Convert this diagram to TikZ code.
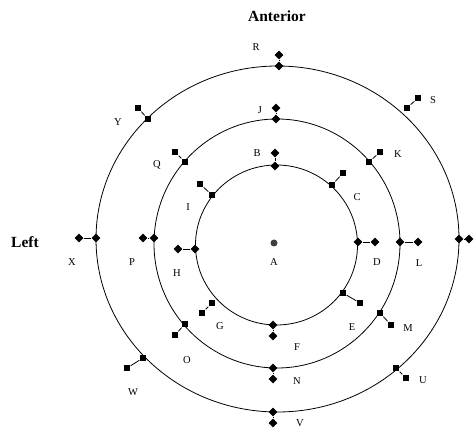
\documentclass[tikz,border=0pt]{standalone}
\usepackage{fontspec}
\setmainfont{Liberation Serif}
\usetikzlibrary{shapes.geometric}

\tikzset{
  dmd/.style={diamond,fill=black,inner sep=0pt,minimum size=9pt},
  sq/.style={rectangle,fill=black,inner sep=0pt,minimum size=6.5pt},
  lab/.style={font=\fontsize{10.5}{12}\selectfont},
  side/.style={font=\fontsize{15.5}{18}\selectfont\bfseries},
}

\begin{document}
\begin{tikzpicture}[x=1pt,y=-1pt,line width=0.8pt]
\useasboundingbox (0,0) rectangle (474,430);
% the three rings
\draw (276.5,245) ellipse [x radius=81pt,y radius=80pt];
\draw (277,243.5) ellipse [x radius=123pt,y radius=124.5pt];
\draw (277.5,239) ellipse [x radius=181.5pt,y radius=173pt];
% centre
\node[circle,fill=black!75,inner sep=0pt,minimum size=7pt] (ctr) at (274,243) {};
\node[lab] (labA) at (274,262) {A};
% marker pairs: name/shape/on ring/outside/label
\foreach \nm/\shp/\ax/\ay/\bx/\by/\lx/\ly in {
  B/dmd/275/166/275/153/257/153,
  C/sq/332/185/343/173/357/197,
  D/dmd/358/242/375/242/377/262,
  E/sq/343/293/360/303/352/327,
  F/dmd/273/325/273/336/297/347,
  G/sq/212/303/202/313/220/326,
  H/dmd/195/249/178/249/177/273,
  I/sq/212/195/200/184/188/207,
  J/dmd/276/119/276/108/260/110,
  K/sq/369/162/380/152/398/154,
  L/dmd/400/242/418/242/419/263,
  M/sq/380/313/391/325/408/328,
  N/dmd/273/368/273/379/297/381,
  O/sq/185/324/175/335/187/360,
  P/dmd/154/238/143/238/132/262,
  Q/sq/185/162/175/152/157/165,
  R/dmd/279/66/279/55/256/47,
  S/sq/407/108/418/98/433/100,
  U/sq/396/368/406/378/423/380,
  V/dmd/273/412/273/423/300/423,
  W/sq/143/358/127/368/133/392,
  X/dmd/96/238/79/238/72/262,
  Y/sq/148/119/138/108/118/122}{
  \node[\shp] (\nm1) at (\ax,\ay) {};
  \node[\shp] (\nm2) at (\bx,\by) {};
  \draw (\nm1) -- (\nm2);
  \node[lab] (lab\nm) at (\lx,\ly) {\nm};
}
% right of the outer ring, no letter
\node[dmd] (T1) at (459,239) {};
\node[dmd] (T2) at (469,239) {};
\draw (T1) -- (T2);
% sides
\node[side] (ant) at (277,16) {Anterior};
\node[side] (lft) at (25,242) {Left};
\end{tikzpicture}
\end{document}
